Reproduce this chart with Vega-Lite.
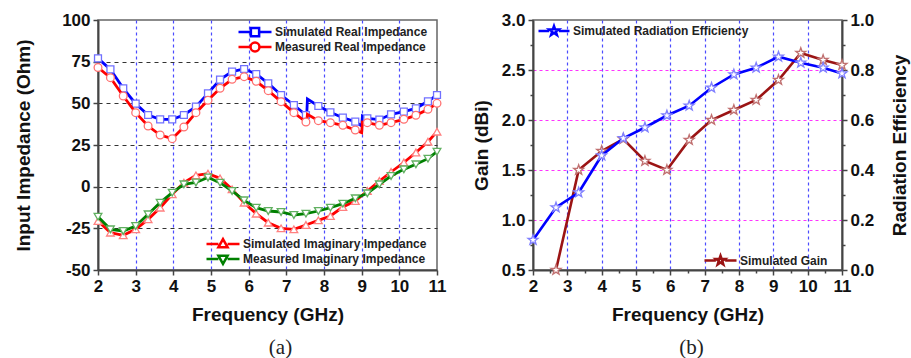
{
  "$schema": "https://vega.github.io/schema/vega-lite/v6.json",
  "padding": {"left": 13, "top": 10, "right": 0, "bottom": 0},
  "background": "white",
  "spacing": 24,
  "config": {
    "font": "Liberation Sans",
    "view": {"stroke": "#666666", "strokeWidth": 1.5},
    "axis": {
      "labelFont": "Liberation Sans", "labelFontSize": 17, "labelFontWeight": "bold", "labelColor": "#111111",
      "titleFont": "Liberation Sans", "titleFontSize": 19, "titleFontWeight": "bold", "titleColor": "#111111",
      "domainColor": "#444444", "domainWidth": 2, "tickColor": "#444444", "tickWidth": 1.5, "tickSize": 5,
      "labelPadding": 3, "labelFlush": false, "labelOverlap": false
    },
    "legend": {
      "labelFont": "Liberation Sans", "labelFontSize": 12, "labelFontWeight": "bold", "labelColor": "#222222",
      "labelLimit": 400, "padding": 0, "rowPadding": 3, "labelOffset": 2, "symbolStrokeWidth": 2.5,
      "symbolFillColor": "white", "orient": "none"
    }
  },
  "datasets": {
    "imp": [
      {"f": 2, "v": 77, "s": "Simulated Real Impedance", "m": 1},
      {"f": 2.33, "v": 70.4, "s": "Simulated Real Impedance", "m": 1},
      {"f": 2.67, "v": 59, "s": "Simulated Real Impedance", "m": 1},
      {"f": 3, "v": 49.8, "s": "Simulated Real Impedance", "m": 1},
      {"f": 3.33, "v": 43, "s": "Simulated Real Impedance", "m": 1},
      {"f": 3.65, "v": 40.4, "s": "Simulated Real Impedance", "m": 1},
      {"f": 3.97, "v": 40.4, "s": "Simulated Real Impedance", "m": 1},
      {"f": 4.28, "v": 43, "s": "Simulated Real Impedance", "m": 1},
      {"f": 4.6, "v": 48, "s": "Simulated Real Impedance", "m": 1},
      {"f": 4.92, "v": 56, "s": "Simulated Real Impedance", "m": 1},
      {"f": 5.24, "v": 64.2, "s": "Simulated Real Impedance", "m": 1},
      {"f": 5.56, "v": 69, "s": "Simulated Real Impedance", "m": 1},
      {"f": 5.88, "v": 70.6, "s": "Simulated Real Impedance", "m": 1},
      {"f": 6.2, "v": 67.6, "s": "Simulated Real Impedance", "m": 1},
      {"f": 6.52, "v": 62, "s": "Simulated Real Impedance", "m": 1},
      {"f": 6.86, "v": 55, "s": "Simulated Real Impedance", "m": 1},
      {"f": 7.2, "v": 49, "s": "Simulated Real Impedance", "m": 1},
      {"f": 7.52, "v": 43, "s": "Simulated Real Impedance", "m": 1},
      {"f": 7.54, "v": 42, "s": "Simulated Real Impedance", "m": 0},
      {"f": 7.56, "v": 52.6, "s": "Simulated Real Impedance", "m": 0},
      {"f": 7.85, "v": 48.4, "s": "Simulated Real Impedance", "m": 1},
      {"f": 8.17, "v": 44.6, "s": "Simulated Real Impedance", "m": 1},
      {"f": 8.5, "v": 41.4, "s": "Simulated Real Impedance", "m": 1},
      {"f": 8.83, "v": 39, "s": "Simulated Real Impedance", "m": 1},
      {"f": 9.0, "v": 36.4, "s": "Simulated Real Impedance", "m": 0},
      {"f": 9.02, "v": 42.4, "s": "Simulated Real Impedance", "m": 0},
      {"f": 9.15, "v": 41, "s": "Simulated Real Impedance", "m": 1},
      {"f": 9.47, "v": 40.2, "s": "Simulated Real Impedance", "m": 1},
      {"f": 9.78, "v": 43.4, "s": "Simulated Real Impedance", "m": 1},
      {"f": 10.12, "v": 45, "s": "Simulated Real Impedance", "m": 1},
      {"f": 10.44, "v": 47, "s": "Simulated Real Impedance", "m": 1},
      {"f": 10.76, "v": 51.2, "s": "Simulated Real Impedance", "m": 1},
      {"f": 11, "v": 55, "s": "Simulated Real Impedance", "m": 1},

      {"f": 2, "v": 71.5, "s": "Measured Real Impedance", "m": 1},
      {"f": 2.33, "v": 65.4, "s": "Measured Real Impedance", "m": 1},
      {"f": 2.67, "v": 54.4, "s": "Measured Real Impedance", "m": 1},
      {"f": 3, "v": 44.4, "s": "Measured Real Impedance", "m": 1},
      {"f": 3.33, "v": 36.4, "s": "Measured Real Impedance", "m": 1},
      {"f": 3.65, "v": 31, "s": "Measured Real Impedance", "m": 1},
      {"f": 3.97, "v": 28.8, "s": "Measured Real Impedance", "m": 1},
      {"f": 4.28, "v": 35.8, "s": "Measured Real Impedance", "m": 1},
      {"f": 4.6, "v": 44.4, "s": "Measured Real Impedance", "m": 1},
      {"f": 4.92, "v": 51.8, "s": "Measured Real Impedance", "m": 1},
      {"f": 5.24, "v": 59, "s": "Measured Real Impedance", "m": 1},
      {"f": 5.56, "v": 64.4, "s": "Measured Real Impedance", "m": 1},
      {"f": 5.88, "v": 66, "s": "Measured Real Impedance", "m": 1},
      {"f": 6.2, "v": 63.2, "s": "Measured Real Impedance", "m": 1},
      {"f": 6.52, "v": 57.6, "s": "Measured Real Impedance", "m": 1},
      {"f": 6.86, "v": 51, "s": "Measured Real Impedance", "m": 1},
      {"f": 7.2, "v": 44.4, "s": "Measured Real Impedance", "m": 1},
      {"f": 7.52, "v": 38.8, "s": "Measured Real Impedance", "m": 1},
      {"f": 7.54, "v": 38.4, "s": "Measured Real Impedance", "m": 0},
      {"f": 7.56, "v": 43.4, "s": "Measured Real Impedance", "m": 0},
      {"f": 7.85, "v": 39.6, "s": "Measured Real Impedance", "m": 1},
      {"f": 8.17, "v": 38.4, "s": "Measured Real Impedance", "m": 1},
      {"f": 8.5, "v": 36.8, "s": "Measured Real Impedance", "m": 1},
      {"f": 8.83, "v": 34, "s": "Measured Real Impedance", "m": 1},
      {"f": 9.0, "v": 32.4, "s": "Measured Real Impedance", "m": 0},
      {"f": 9.02, "v": 38.8, "s": "Measured Real Impedance", "m": 0},
      {"f": 9.15, "v": 38.4, "s": "Measured Real Impedance", "m": 1},
      {"f": 9.47, "v": 36.8, "s": "Measured Real Impedance", "m": 1},
      {"f": 9.78, "v": 38.4, "s": "Measured Real Impedance", "m": 1},
      {"f": 10.12, "v": 40.4, "s": "Measured Real Impedance", "m": 1},
      {"f": 10.44, "v": 42.8, "s": "Measured Real Impedance", "m": 1},
      {"f": 10.76, "v": 46.4, "s": "Measured Real Impedance", "m": 1},
      {"f": 11, "v": 50, "s": "Measured Real Impedance", "m": 1},

      {"f": 2, "v": -20.6, "s": "Simulated Imaginary Impedance", "m": 1},
      {"f": 2.33, "v": -27.6, "s": "Simulated Imaginary Impedance", "m": 1},
      {"f": 2.67, "v": -29.2, "s": "Simulated Imaginary Impedance", "m": 1},
      {"f": 3, "v": -25.6, "s": "Simulated Imaginary Impedance", "m": 1},
      {"f": 3.33, "v": -19.6, "s": "Simulated Imaginary Impedance", "m": 1},
      {"f": 3.65, "v": -12.6, "s": "Simulated Imaginary Impedance", "m": 1},
      {"f": 3.97, "v": -4.6, "s": "Simulated Imaginary Impedance", "m": 1},
      {"f": 4.28, "v": 2.4, "s": "Simulated Imaginary Impedance", "m": 1},
      {"f": 4.6, "v": 6.8, "s": "Simulated Imaginary Impedance", "m": 1},
      {"f": 4.92, "v": 7.8, "s": "Simulated Imaginary Impedance", "m": 1},
      {"f": 5.24, "v": 5, "s": "Simulated Imaginary Impedance", "m": 1},
      {"f": 5.56, "v": -1.6, "s": "Simulated Imaginary Impedance", "m": 1},
      {"f": 5.88, "v": -9.6, "s": "Simulated Imaginary Impedance", "m": 1},
      {"f": 6.2, "v": -16.2, "s": "Simulated Imaginary Impedance", "m": 1},
      {"f": 6.52, "v": -21.6, "s": "Simulated Imaginary Impedance", "m": 1},
      {"f": 6.86, "v": -25, "s": "Simulated Imaginary Impedance", "m": 1},
      {"f": 7.2, "v": -25.6, "s": "Simulated Imaginary Impedance", "m": 1},
      {"f": 7.52, "v": -23, "s": "Simulated Imaginary Impedance", "m": 1},
      {"f": 7.85, "v": -20.2, "s": "Simulated Imaginary Impedance", "m": 1},
      {"f": 8.17, "v": -17.6, "s": "Simulated Imaginary Impedance", "m": 1},
      {"f": 8.5, "v": -12.2, "s": "Simulated Imaginary Impedance", "m": 1},
      {"f": 8.83, "v": -8.6, "s": "Simulated Imaginary Impedance", "m": 1},
      {"f": 9.15, "v": -2.6, "s": "Simulated Imaginary Impedance", "m": 1},
      {"f": 9.47, "v": 3.4, "s": "Simulated Imaginary Impedance", "m": 1},
      {"f": 9.78, "v": 8.8, "s": "Simulated Imaginary Impedance", "m": 1},
      {"f": 10.12, "v": 14.5, "s": "Simulated Imaginary Impedance", "m": 1},
      {"f": 10.44, "v": 20.5, "s": "Simulated Imaginary Impedance", "m": 1},
      {"f": 10.76, "v": 27, "s": "Simulated Imaginary Impedance", "m": 1},
      {"f": 11, "v": 33, "s": "Simulated Imaginary Impedance", "m": 1},

      {"f": 2, "v": -18, "s": "Measured Imaginary Impedance", "m": 1},
      {"f": 2.33, "v": -25.6, "s": "Measured Imaginary Impedance", "m": 1},
      {"f": 2.67, "v": -26.6, "s": "Measured Imaginary Impedance", "m": 1},
      {"f": 3, "v": -23.6, "s": "Measured Imaginary Impedance", "m": 1},
      {"f": 3.33, "v": -16.6, "s": "Measured Imaginary Impedance", "m": 1},
      {"f": 3.65, "v": -9.6, "s": "Measured Imaginary Impedance", "m": 1},
      {"f": 3.97, "v": -3.6, "s": "Measured Imaginary Impedance", "m": 1},
      {"f": 4.28, "v": 1.4, "s": "Measured Imaginary Impedance", "m": 1},
      {"f": 4.6, "v": 2.5, "s": "Measured Imaginary Impedance", "m": 1},
      {"f": 4.92, "v": 5.5, "s": "Measured Imaginary Impedance", "m": 1},
      {"f": 5.24, "v": 2.4, "s": "Measured Imaginary Impedance", "m": 1},
      {"f": 5.56, "v": -2.6, "s": "Measured Imaginary Impedance", "m": 1},
      {"f": 5.88, "v": -8.2, "s": "Measured Imaginary Impedance", "m": 1},
      {"f": 6.2, "v": -12.6, "s": "Measured Imaginary Impedance", "m": 1},
      {"f": 6.52, "v": -14.6, "s": "Measured Imaginary Impedance", "m": 1},
      {"f": 6.86, "v": -15.2, "s": "Measured Imaginary Impedance", "m": 1},
      {"f": 7.2, "v": -17, "s": "Measured Imaginary Impedance", "m": 1},
      {"f": 7.52, "v": -16.2, "s": "Measured Imaginary Impedance", "m": 1},
      {"f": 7.85, "v": -14.6, "s": "Measured Imaginary Impedance", "m": 1},
      {"f": 8.17, "v": -12.6, "s": "Measured Imaginary Impedance", "m": 1},
      {"f": 8.5, "v": -10.2, "s": "Measured Imaginary Impedance", "m": 1},
      {"f": 8.83, "v": -7, "s": "Measured Imaginary Impedance", "m": 1},
      {"f": 9.15, "v": -4, "s": "Measured Imaginary Impedance", "m": 1},
      {"f": 9.47, "v": 1.4, "s": "Measured Imaginary Impedance", "m": 1},
      {"f": 9.78, "v": 6.4, "s": "Measured Imaginary Impedance", "m": 1},
      {"f": 10.12, "v": 10.4, "s": "Measured Imaginary Impedance", "m": 1},
      {"f": 10.44, "v": 13.4, "s": "Measured Imaginary Impedance", "m": 1},
      {"f": 10.76, "v": 16.8, "s": "Measured Imaginary Impedance", "m": 1},
      {"f": 11, "v": 21, "s": "Measured Imaginary Impedance", "m": 1}
    ],
    "rad": [
      {"f": 2.0, "v": 0.12, "s": "Simulated Radiation Efficiency"},
      {"f": 2.67, "v": 0.25, "s": "Simulated Radiation Efficiency"},
      {"f": 3.33, "v": 0.31, "s": "Simulated Radiation Efficiency"},
      {"f": 4.0, "v": 0.458, "s": "Simulated Radiation Efficiency"},
      {"f": 4.63, "v": 0.527, "s": "Simulated Radiation Efficiency"},
      {"f": 5.26, "v": 0.57, "s": "Simulated Radiation Efficiency"},
      {"f": 5.9, "v": 0.618, "s": "Simulated Radiation Efficiency"},
      {"f": 6.55, "v": 0.657, "s": "Simulated Radiation Efficiency"},
      {"f": 7.2, "v": 0.729, "s": "Simulated Radiation Efficiency"},
      {"f": 7.85, "v": 0.782, "s": "Simulated Radiation Efficiency"},
      {"f": 8.5, "v": 0.809, "s": "Simulated Radiation Efficiency"},
      {"f": 9.15, "v": 0.853, "s": "Simulated Radiation Efficiency"},
      {"f": 9.8, "v": 0.829, "s": "Simulated Radiation Efficiency"},
      {"f": 10.45, "v": 0.809, "s": "Simulated Radiation Efficiency"},
      {"f": 11.0, "v": 0.786, "s": "Simulated Radiation Efficiency"},
      {"f": 2.67, "v": 0.5, "s": "Simulated Gain"},
      {"f": 3.33, "v": 1.5, "s": "Simulated Gain"},
      {"f": 4.0, "v": 1.69, "s": "Simulated Gain"},
      {"f": 4.63, "v": 1.81, "s": "Simulated Gain"},
      {"f": 5.26, "v": 1.59, "s": "Simulated Gain"},
      {"f": 5.9, "v": 1.5, "s": "Simulated Gain"},
      {"f": 6.55, "v": 1.8, "s": "Simulated Gain"},
      {"f": 7.2, "v": 2.0, "s": "Simulated Gain"},
      {"f": 7.85, "v": 2.1, "s": "Simulated Gain"},
      {"f": 8.5, "v": 2.2, "s": "Simulated Gain"},
      {"f": 9.15, "v": 2.4, "s": "Simulated Gain"},
      {"f": 9.8, "v": 2.67, "s": "Simulated Gain"},
      {"f": 10.45, "v": 2.6, "s": "Simulated Gain"},
      {"f": 11.0, "v": 2.55, "s": "Simulated Gain"}
    ]
  },
  "hconcat": [
    {
      "width": 339,
      "height": 250,
      "data": {"name": "imp"},
      "title": {"text": "(a)", "orient": "bottom", "anchor": "middle", "frame": "group", "font": "Liberation Serif", "fontSize": 21, "fontWeight": "normal", "color": "#222222", "offset": 13, "dx": 13},
      "encoding": {
        "x": {
          "field": "f", "type": "quantitative",
          "scale": {"domain": [2, 11], "nice": false, "zero": false},
          "axis": {
            "values": [2, 3, 4, 5, 6, 7, 8, 9, 10, 11],
            "labelExpr": "'' + datum.value",
            "title": "Frequency (GHz)", "titlePadding": 11,
            "grid": true, "gridColor": "#4b4bff", "gridDash": [3, 3], "gridWidth": 1.2,
            "gridOpacity": {"condition": {"test": "datum.value == 2 || datum.value == 11", "value": 0}, "value": 1}
          }
        },
        "y": {
          "field": "v", "type": "quantitative",
          "scale": {"domain": [-50, 100], "nice": false, "zero": false},
          "axis": {
            "values": [-50, -25, 0, 25, 50, 75, 100],
            "labelExpr": "'' + datum.value",
            "title": "Input Impedance (Ohm)", "titlePadding": 28,
            "grid": true, "gridColor": "#333333", "gridDash": [4, 4], "gridWidth": 1.2,
            "gridOpacity": {"condition": {"test": "datum.value == -50 || datum.value == 100", "value": 0}, "value": 1}
          }
        }
      },
      "layer": [
        {
          "transform": [{"filter": "datum.s === 'Simulated Real Impedance'"}],
          "layer": [
            {
              "mark": {"type": "line", "strokeWidth": 2.8},
              "encoding": {
                "color": {
                  "field": "s", "type": "nominal",
                  "scale": {"domain": ["Simulated Real Impedance"], "range": ["#0000ff"]},
                  "legend": {"title": null, "legendX": 139, "legendY": -6, "symbolSize": 1089,
                    "symbolType": "M-1,0L-0.25,0M0.25,0L1,0M-0.25,-0.25L0.25,-0.25L0.25,0.25L-0.25,0.25Z"}
                }
              }
            },
            {
              "transform": [{"filter": "datum.m == 1"}],
              "mark": {"type": "point", "shape": "square", "size": 48, "fill": "white", "fillOpacity": 1, "stroke": "#7070ff", "strokeWidth": 1.3, "opacity": 1}
            }
          ]
        },
        {
          "transform": [{"filter": "datum.s === 'Measured Real Impedance'"}],
          "layer": [
            {
              "mark": {"type": "line", "strokeWidth": 2.8},
              "encoding": {
                "color": {
                  "field": "s", "type": "nominal",
                  "scale": {"domain": ["Measured Real Impedance"], "range": ["#ff0000"]},
                  "legend": {"title": null, "legendX": 139, "legendY": 9, "symbolSize": 1089,
                    "symbolType": "M-1,0L-0.27,0M0.27,0L1,0M-0.27,0A0.27,0.27 0 1,1 0.27,0A0.27,0.27 0 1,1 -0.27,0Z"}
                }
              }
            },
            {
              "transform": [{"filter": "datum.m == 1"}],
              "mark": {"type": "point", "shape": "circle", "size": 60, "fill": "white", "fillOpacity": 1, "stroke": "#ff7070", "strokeWidth": 1.3, "opacity": 1}
            }
          ]
        },
        {
          "transform": [{"filter": "datum.s === 'Simulated Imaginary Impedance'"}],
          "layer": [
            {
              "mark": {"type": "line", "strokeWidth": 2.8},
              "encoding": {
                "color": {
                  "field": "s", "type": "nominal",
                  "scale": {"domain": ["Simulated Imaginary Impedance"], "range": ["#ff0000"]},
                  "legend": {"title": null, "legendX": 107, "legendY": 206, "symbolSize": 1089,
                    "symbolType": "M-1,0L-0.28,0M0.28,0L1,0M0,-0.3L0.28,0.2L-0.28,0.2Z"}
                }
              }
            },
            {
              "transform": [{"filter": "datum.m == 1"}],
              "mark": {"type": "point", "shape": "triangle-up", "size": 60, "fill": "white", "fillOpacity": 1, "stroke": "#ff8080", "strokeWidth": 1.3, "opacity": 1}
            }
          ]
        },
        {
          "transform": [{"filter": "datum.s === 'Measured Imaginary Impedance'"}],
          "layer": [
            {
              "mark": {"type": "line", "strokeWidth": 2.8},
              "encoding": {
                "color": {
                  "field": "s", "type": "nominal",
                  "scale": {"domain": ["Measured Imaginary Impedance"], "range": ["#008000"]},
                  "legend": {"title": null, "legendX": 107, "legendY": 221, "symbolSize": 1089,
                    "symbolType": "M-1,0L-0.28,0M0.28,0L1,0M0,0.3L0.28,-0.2L-0.28,-0.2Z"}
                }
              }
            },
            {
              "transform": [{"filter": "datum.m == 1"}],
              "mark": {"type": "point", "shape": "triangle-down", "size": 60, "fill": "white", "fillOpacity": 1, "stroke": "#60b060", "strokeWidth": 1.3, "opacity": 1}
            }
          ]
        }
      ],
      "resolve": {"scale": {"color": "independent"}}
    },
    {
      "width": 309,
      "height": 250,
      "data": {"name": "rad"},
      "title": {"text": "(b)", "orient": "bottom", "anchor": "middle", "frame": "group", "font": "Liberation Serif", "fontSize": 21, "fontWeight": "normal", "color": "#222222", "offset": 13, "dx": 4},
      "encoding": {
        "x": {
          "field": "f", "type": "quantitative",
          "scale": {"domain": [2, 11], "nice": false, "zero": false},
          "axis": {
            "values": [2, 2.5, 3, 3.5, 4, 4.5, 5, 5.5, 6, 6.5, 7, 7.5, 8, 8.5, 9, 9.5, 10, 10.5, 11],
            "labelExpr": "datum.value % 1 == 0 ? '' + datum.value : ''",
            "tickSize": {"condition": {"test": "datum.value % 1 == 0", "value": 5}, "value": 3},
            "title": "Frequency (GHz)", "titlePadding": 11,
            "grid": true, "gridColor": "#4b4bff", "gridDash": [3, 3], "gridWidth": 1.2,
            "gridOpacity": {"condition": {"test": "datum.value % 1 != 0 || datum.value == 2 || datum.value == 11", "value": 0}, "value": 1}
          }
        }
      },
      "layer": [
        {
          "transform": [{"filter": "datum.s === 'Simulated Gain'"}],
          "encoding": {
            "y": {
              "field": "v", "type": "quantitative",
              "scale": {"domain": [0.5, 3], "nice": false, "zero": false},
              "axis": {
                "orient": "left",
                "values": [0.5, 0.75, 1, 1.25, 1.5, 1.75, 2, 2.25, 2.5, 2.75, 3],
                "labelExpr": "(datum.value * 2) % 1 == 0 ? format(datum.value, '.1f') : ''",
                "tickSize": {"condition": {"test": "(datum.value * 2) % 1 == 0", "value": 5}, "value": 3},
                "title": "Gain (dBi)", "titlePadding": 10,
                "grid": true, "gridColor": "#ff33ff", "gridDash": [3, 3], "gridWidth": 1.2,
                "gridOpacity": {"condition": {"test": "(datum.value * 2) % 1 == 0 && datum.value > 0.6 && datum.value < 2.9", "value": 1}, "value": 0}
              }
            }
          },
          "layer": [
            {
              "mark": {"type": "line", "strokeWidth": 2.6},
              "encoding": {
                "color": {
                  "field": "s", "type": "nominal",
                  "scale": {"domain": ["Simulated Gain"], "range": ["#9b1414"]},
                  "legend": {"title": null, "legendX": 170, "legendY": 223, "symbolSize": 1024,
                    "symbolType": "M-1,0L-0.29,0M0.29,0L1,0M0,-0.3L0.0705,-0.097L0.285,-0.093L0.114,0.037L0.176,0.243L0,0.12L-0.176,0.243L-0.114,0.037L-0.285,-0.093L-0.0705,-0.097Z"}
                }
              }
            },
            {
              "mark": {"type": "point", "size": 110, "fill": "white", "fillOpacity": 1, "stroke": "#c07070", "strokeWidth": 1.3, "opacity": 1,
                "shape": "M0,-1L0.235,-0.324L0.951,-0.309L0.380,0.124L0.588,0.809L0,0.4L-0.588,0.809L-0.380,0.124L-0.951,-0.309L-0.235,-0.324Z"}
            }
          ]
        },
        {
          "transform": [{"filter": "datum.s === 'Simulated Radiation Efficiency'"}],
          "encoding": {
            "y": {
              "field": "v", "type": "quantitative",
              "scale": {"domain": [0, 1], "nice": false, "zero": false},
              "axis": {
                "orient": "right",
                "values": [0, 0.1, 0.2, 0.3, 0.4, 0.5, 0.6, 0.7, 0.8, 0.9, 1],
                "labelExpr": "round(datum.value * 10) % 2 == 0 ? format(datum.value, '.1f') : ''",
                "tickSize": {"condition": {"test": "round(datum.value * 10) % 2 == 0", "value": 5}, "value": 3},
                "title": "Radiation Efficiency", "titlePadding": 17, "titleAngle": 270, "titleBaseline": "top",
                "grid": false
              }
            }
          },
          "layer": [
            {
              "mark": {"type": "line", "strokeWidth": 2.6},
              "encoding": {
                "color": {
                  "field": "s", "type": "nominal",
                  "scale": {"domain": ["Simulated Radiation Efficiency"], "range": ["#0000ff"]},
                  "legend": {"title": null, "legendX": 4, "legendY": -6, "symbolSize": 961,
                    "symbolType": "M-1,0L-0.31,0M0.31,0L1,0M0,-0.32L0.075,-0.104L0.304,-0.099L0.122,0.04L0.188,0.259L0,0.128L-0.188,0.259L-0.122,0.04L-0.304,-0.099L-0.075,-0.104Z"}
                }
              }
            },
            {
              "mark": {"type": "point", "size": 110, "fill": "white", "fillOpacity": 1, "stroke": "#8080ff", "strokeWidth": 1.3, "opacity": 1,
                "shape": "M0,-1L0.235,-0.324L0.951,-0.309L0.380,0.124L0.588,0.809L0,0.4L-0.588,0.809L-0.380,0.124L-0.951,-0.309L-0.235,-0.324Z"}
            }
          ]
        }
      ],
      "resolve": {"scale": {"y": "independent", "color": "independent"}}
    }
  ]
}
